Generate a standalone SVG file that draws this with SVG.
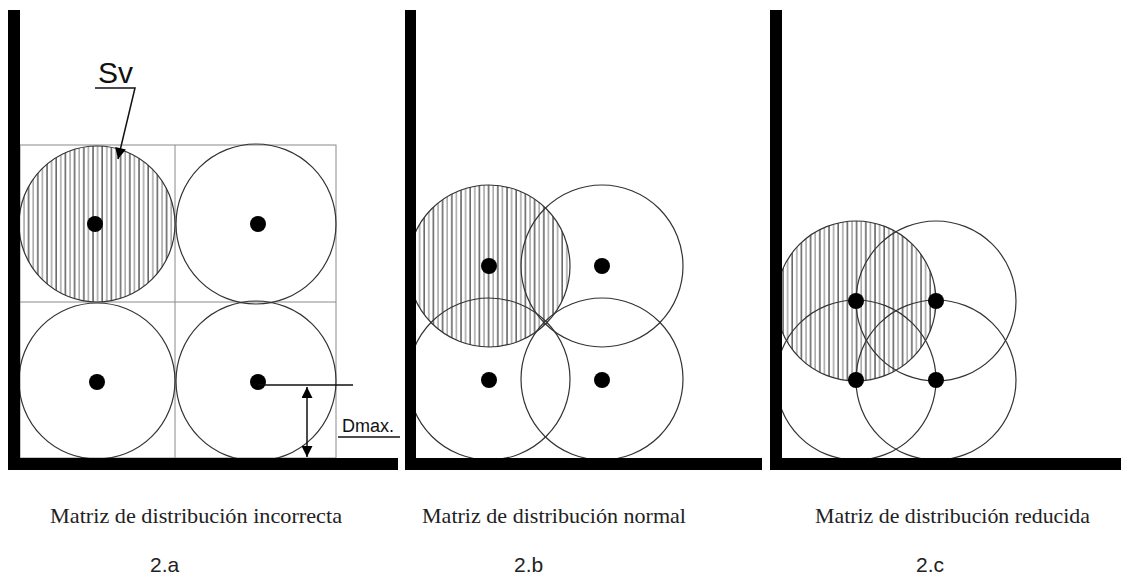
<svg xmlns="http://www.w3.org/2000/svg" width="1121" height="578" viewBox="0 0 1121 578">
<style>
.wall{fill:#000}
.grid{fill:none;stroke:#8a8a8a;stroke-width:1}
.circ{fill:none;stroke:#333;stroke-width:1.2}
.hat{fill:url(#hatch);stroke:#333;stroke-width:1.2}
.dot{fill:#000}
.cap{font-family:"Liberation Serif",serif;font-size:21px;fill:#222}
.lab{font-family:"Liberation Sans",Arial,sans-serif;font-size:21px;fill:#222}
.ann{font-family:"Liberation Sans",Arial,sans-serif;fill:#111}
.ln{stroke:#111;stroke-width:1.5;fill:none}
</style>
<defs>
<pattern id="hatch" patternUnits="userSpaceOnUse" width="9.2" height="10">
<rect width="9.2" height="10" fill="#fff"/>
<line x1="1" y1="0" x2="1" y2="10" stroke="#222" stroke-width="1.1"/>
<line x1="5.6" y1="0" x2="5.6" y2="10" stroke="#777" stroke-width="1"/>
</pattern>
<marker id="ah" viewBox="0 0 10 10" refX="9" refY="5" markerWidth="10" markerHeight="10" markerUnits="userSpaceOnUse" orient="auto-start-reverse">
<path d="M0,0 L10,5 L0,10 z" fill="#000"/>
</marker>
<marker id="ah2" viewBox="0 0 10 10" refX="10" refY="5" markerWidth="14" markerHeight="11" markerUnits="userSpaceOnUse" orient="auto-start-reverse">
<path d="M0,0 L10,5 L0,10 z" fill="#000"/>
</marker>
</defs>
<rect width="1121" height="578" fill="#fff"/>

<g id="panel-a">
<rect class="grid" x="20" y="145" width="316" height="313"/>
<line class="grid" x1="175" y1="145" x2="175" y2="458"/>
<line class="grid" x1="20" y1="302" x2="336" y2="302"/>
<circle class="hat" cx="97" cy="224" r="78"/>
<circle class="circ" cx="256" cy="224" r="80"/>
<circle class="circ" cx="97" cy="381" r="78"/>
<circle class="circ" cx="256" cy="381" r="80"/>
<circle class="dot" cx="95" cy="224" r="8"/>
<circle class="dot" cx="258" cy="224" r="8"/>
<circle class="dot" cx="97" cy="382" r="8"/>
<circle class="dot" cx="258" cy="382" r="8"/>
<rect class="wall" x="8" y="10" width="12" height="460"/>
<rect class="wall" x="8" y="458" width="390" height="12"/>
<text class="ann" x="98" y="83" font-size="30">Sv</text>
<text class="ann" x="342" y="432" font-size="18">Dmax.</text>
<text class="cap" x="50" y="523" textLength="292" lengthAdjust="spacingAndGlyphs">Matriz de distribución incorrecta</text>
<text class="lab" x="150" y="572">2.a</text>
</g>

<g id="panel-b">
<circle class="hat" cx="489" cy="266" r="81"/>
<circle class="circ" cx="602" cy="266" r="81"/>
<circle class="circ" cx="489" cy="379" r="81"/>
<circle class="circ" cx="602" cy="379" r="81"/>
<circle class="dot" cx="489" cy="266" r="8"/>
<circle class="dot" cx="602" cy="266" r="8"/>
<circle class="dot" cx="489" cy="380" r="8"/>
<circle class="dot" cx="602" cy="380" r="8"/>
<rect class="wall" x="405" y="10" width="11" height="460"/>
<rect class="wall" x="405" y="458" width="357" height="12"/>
<text class="cap" x="422" y="523" textLength="264" lengthAdjust="spacingAndGlyphs">Matriz de distribución normal</text>
<text class="lab" x="514" y="572">2.b</text>
</g>

<g id="panel-c">
<circle class="hat" cx="856" cy="301" r="80"/>
<circle class="circ" cx="936" cy="301" r="80"/>
<circle class="circ" cx="856" cy="380" r="80"/>
<circle class="circ" cx="936" cy="380" r="80"/>
<circle class="dot" cx="856" cy="301" r="8"/>
<circle class="dot" cx="936" cy="301" r="8"/>
<circle class="dot" cx="856" cy="380" r="8"/>
<circle class="dot" cx="936" cy="380" r="8"/>
<rect class="wall" x="770" y="10" width="12" height="460"/>
<rect class="wall" x="770" y="458" width="351" height="12"/>
<text class="cap" x="815" y="523" textLength="275" lengthAdjust="spacingAndGlyphs">Matriz de distribución reducida</text>
<text class="lab" x="916" y="572">2.c</text>
</g>

<g id="connectors">
<polyline class="ln" points="95,88 135,88 118,159" marker-end="url(#ah2)"/>
<line class="ln" x1="258" y1="385" x2="353" y2="385" stroke="#666"/>
<line class="ln" x1="307" y1="387" x2="307" y2="457" marker-start="url(#ah2)" marker-end="url(#ah2)"/>
<line class="ln" x1="338" y1="437" x2="400" y2="437"/>
</g>
</svg>
